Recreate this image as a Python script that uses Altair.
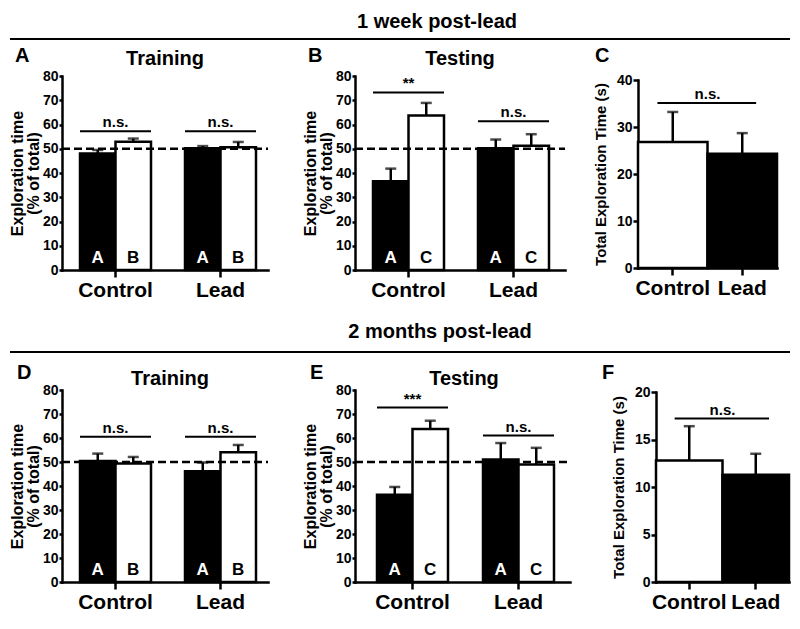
import altair as alt
import pandas as pd

FONT = "Liberation Sans"
O = 8            # page margin: chart coordinate = page coordinate - O
W, H = 784, 606  # whole drawing area

# ---------------- data ----------------
pair_groups = ["Control", "Control", "Lead", "Lead"]
total_groups = ["Control", "Lead"]
chance_level = [50]

# A: 1 week post-lead, training (objects A / B)
train1_objects = ["A", "B", "A", "B"]
train1_mean = [48.0, 52.9, 50.2, 50.6]
train1_sem = [1.5, 1.3, 0.9, 2.2]
train1_sig_y = [57.2, 57.2]
train1_sig_label = ["n.s.", "n.s."]

# B: 1 week post-lead, testing (objects A / C)
test1_objects = ["A", "C", "A", "C"]
test1_mean = [36.6, 63.7, 50.2, 51.2]
test1_sem = [5.2, 5.2, 3.6, 4.8]
test1_sig_y = [73.2, 61.3]
test1_sig_label = ["**", "n.s."]

# C: 1 week post-lead, total exploration time (s)
total1_mean = [26.8, 24.3]
total1_sem = [6.4, 4.4]
total1_sig_y = [35.1]
total1_sig_label = ["n.s."]

# D: 2 months post-lead, training
train2_objects = ["A", "B", "A", "B"]
train2_mean = [50.4, 49.4, 46.1, 54.1]
train2_sem = [3.1, 2.7, 3.7, 3.0]
train2_sig_y = [60.5, 60.5]
train2_sig_label = ["n.s.", "n.s."]

# E: 2 months post-lead, testing
test2_objects = ["A", "C", "A", "C"]
test2_mean = [36.4, 63.8, 51.0, 49.0]
test2_sem = [3.2, 3.4, 6.9, 6.9]
test2_sig_y = [72.7, 61.0]
test2_sig_label = ["***", "n.s."]

# F: 2 months post-lead, total exploration time (s)
total2_mean = [12.8, 11.3]
total2_sem = [3.6, 2.2]
total2_sig_y = [17.2]
total2_sig_label = ["n.s."]

pct_ticks = [0, 10, 20, 30, 40, 50, 60, 70, 80]
total1_ticks = [0, 10, 20, 30, 40]
total2_ticks = [0, 5, 10, 15, 20]
pct_title = ["Exploration time", "(% of total)"]
total_title = "Total Exploration Time (s)"

# ---------------- layout (page pixels) ----------------
LAY = {
    "A": dict(L=62, R=268, top=76, bottom=270, s1=80, bw=71, step=105),
    "B": dict(L=355, R=565, top=76, bottom=270, s1=373, bw=71, step=105),
    "C": dict(L=638, R=777, top=80, bottom=268),
    "D": dict(L=62, R=268, top=390, bottom=582, s1=80, bw=71, step=105),
    "E": dict(L=355, R=570, top=390, bottom=582, s1=377, bw=71, step=106),
    "F": dict(L=656, R=789, top=392, bottom=582),
}


def band_params(lay):
    w = lay["R"] - lay["L"]
    p_i = 1 - lay["bw"] / lay["step"]
    p_o = (w / lay["step"] - 2 + p_i) / 2
    align = (lay["s1"] - lay["L"]) / (w - lay["step"] - lay["bw"])
    return dict(paddingInner=p_i, paddingOuter=p_o, align=align)


def label_layer(text, x, y, size, align="center"):
    return alt.Chart(pd.DataFrame({"t": [text]})).mark_text(
        font=FONT, fontWeight="bold", fontSize=size, align=align,
        baseline="alphabetic", color="black"
    ).encode(x=alt.value(x - O), y=alt.value(y - O), text="t:N")


def header(text, cx, baseline, line_y):
    rule = alt.Chart(pd.DataFrame({"t": [text]})).mark_rule(
        color="black", strokeWidth=2
    ).encode(x=alt.value(10 - O), x2=alt.value(790 - O), y=alt.value(line_y - O))
    return alt.layer(rule, label_layer(text, cx, baseline, 20))


def x_axis(lay):
    return alt.Axis(title=None, orient="bottom", labelAngle=0,
                    offset=-(H - (lay["bottom"] - O)))


def pair_panel(objects, means, sems, sig_y, sig_labels, lay, letter, lpos, title, tpos):
    bars_df = pd.DataFrame({
        "group": pair_groups, "object": objects, "mean": means,
        "top": [m + s for m, s in zip(means, sems)],
    })
    sig_df = pd.DataFrame({"group": ["Control", "Lead"], "y": sig_y, "label": sig_labels})
    chance_df = pd.DataFrame({"chance": chance_level})

    xscale = alt.Scale(range=[lay["L"] - O, lay["R"] - O], **band_params(lay))
    xaxis = x_axis(lay)
    yscale = alt.Scale(domain=[0, 80], range=[lay["bottom"] - O, lay["top"] - O], nice=False)
    yaxis = alt.Axis(title=pct_title, orient="left", offset=-(lay["L"] - O), values=pct_ticks)

    X = alt.X("group:N", scale=xscale, axis=xaxis)
    XO = alt.XOffset("object:N", scale=alt.Scale(paddingInner=0, paddingOuter=0))

    def Y(f):
        return alt.Y(f, type="quantitative", scale=yscale, axis=yaxis, stack=None)

    base = alt.Chart(bars_df)
    bars = base.mark_bar(stroke="black", strokeWidth=2.5).encode(
        x=X, xOffset=XO, y=Y("mean"),
        fill=alt.condition(alt.datum.object == "A", alt.value("black"), alt.value("white")),
    )
    err = base.mark_rule(color="black", strokeWidth=2.5).encode(
        x=X, xOffset=XO, y=Y("mean"), y2=alt.Y2("top"))
    cap = base.mark_tick(color="black", thickness=2.5, size=11, orient="horizontal").encode(
        x=X, xOffset=XO, y=Y("top"))
    chance = alt.Chart(chance_df).mark_rule(color="black", strokeWidth=2.5, strokeDash=[8, 4]).encode(
        x=alt.value(lay["L"] - O), x2=alt.value(lay["R"] - O), y=Y("chance"))
    sig_rule = alt.Chart(sig_df).mark_rule(color="black", strokeWidth=2).encode(
        x=alt.X("group:N", bandPosition=0, scale=xscale, axis=xaxis),
        x2=alt.X2("group", bandPosition=1),
        y=Y("y"))
    sig_text = alt.Chart(sig_df).mark_text(
        font=FONT, fontWeight="bold", fontSize=15, baseline="alphabetic", dy=-4, color="black"
    ).encode(x=X, y=Y("y"), text="label:N")
    obj_text = base.mark_text(
        font=FONT, fontWeight="bold", fontSize=17, baseline="alphabetic", dy=-7
    ).encode(
        x=X, xOffset=XO, y=alt.value(lay["bottom"] - O), text="object:N",
        color=alt.condition(alt.datum.object == "A", alt.value("white"), alt.value("black")),
    )
    return alt.layer(
        bars, chance, err, cap, sig_rule, sig_text, obj_text,
        label_layer(letter, lpos[0], lpos[1], 20, align="left"),
        label_layer(title, tpos[0], tpos[1], 20),
    )


def total_panel(means, sems, sig_y, sig_label, ticks, ymax, lay, letter, lpos):
    bars_df = pd.DataFrame({
        "group": total_groups, "mean": means,
        "top": [m + s for m, s in zip(means, sems)],
    })
    sig_df = pd.DataFrame({"start": ["Control"], "end": ["Lead"], "y": sig_y, "label": sig_label})

    xscale = alt.Scale(range=[lay["L"] - O, lay["R"] - O], paddingInner=0, paddingOuter=0)
    xaxis = x_axis(lay)
    yscale = alt.Scale(domain=[0, ymax], range=[lay["bottom"] - O, lay["top"] - O], nice=False)
    yaxis = alt.Axis(title=total_title, orient="left", offset=-(lay["L"] - O), values=ticks,
                     titleFontSize=15, titlePadding=8, tickSize=5)
    X = alt.X("group:N", scale=xscale, axis=xaxis)

    def Y(f):
        return alt.Y(f, type="quantitative", scale=yscale, axis=yaxis, stack=None)

    base = alt.Chart(bars_df)
    bars = base.mark_bar(stroke="black", strokeWidth=2.5).encode(
        x=X, y=Y("mean"),
        fill=alt.condition(alt.datum.group == "Lead", alt.value("black"), alt.value("white")),
    )
    err = base.mark_rule(color="black", strokeWidth=2.5).encode(x=X, y=Y("mean"), y2=alt.Y2("top"))
    cap = base.mark_tick(color="black", thickness=2.5, size=11, orient="horizontal").encode(
        x=X, y=Y("top"))
    sig_rule = alt.Chart(sig_df).mark_rule(color="black", strokeWidth=2).encode(
        x=alt.X("start:N", bandPosition=0.28, scale=xscale, axis=xaxis),
        x2=alt.X2("end", bandPosition=0.7),
        y=Y("y"))
    sig_text = alt.Chart(sig_df).mark_text(
        font=FONT, fontWeight="bold", fontSize=15, baseline="alphabetic", dy=-4, color="black"
    ).encode(x=alt.X("start:N", bandPosition=1, scale=xscale, axis=xaxis), y=Y("y"), text="label:N")
    return alt.layer(
        bars, err, cap, sig_rule, sig_text,
        label_layer(letter, lpos[0], lpos[1], 20, align="left"),
    )


pA = pair_panel(train1_objects, train1_mean, train1_sem, train1_sig_y, train1_sig_label,
                LAY["A"], "A", (15, 62), "Training", (165, 65))
pB = pair_panel(test1_objects, test1_mean, test1_sem, test1_sig_y, test1_sig_label,
                LAY["B"], "B", (308, 62), "Testing", (460, 65))
pC = total_panel(total1_mean, total1_sem, total1_sig_y, total1_sig_label, total1_ticks, 40,
                 LAY["C"], "C", (595, 62))
pD = pair_panel(train2_objects, train2_mean, train2_sem, train2_sig_y, train2_sig_label,
                LAY["D"], "D", (17, 379), "Training", (170, 385))
pE = pair_panel(test2_objects, test2_mean, test2_sem, test2_sig_y, test2_sig_label,
                LAY["E"], "E", (310, 379), "Testing", (464, 385))
pF = total_panel(total2_mean, total2_sem, total2_sig_y, total2_sig_label, total2_ticks, 20,
                 LAY["F"], "F", (602, 379))

h1 = header("1 week post-lead", 437, 28, 39)
h2 = header("2 months post-lead", 440, 338, 352)

chart = alt.layer(h1, h2, pA, pB, pC, pD, pE, pF).resolve_scale(
    x="independent", y="independent", xOffset="independent"
).resolve_axis(
    x="independent", y="independent"
).properties(
    width=W, height=H, padding=0, background="white"
).configure_view(
    stroke=None
).configure_axis(
    domainColor="black", domainWidth=2.5, domainCap="square",
    tickColor="black", tickWidth=2.5,
    labelColor="black", titleColor="black",
    labelFont=FONT, titleFont=FONT,
    labelFontWeight="bold", titleFontWeight="bold",
    grid=False, labelOverlap=False,
).configure_axisX(
    labelFontSize=21, tickSize=7, labelPadding=2,
).configure_axisY(
    labelFontSize=14, tickSize=3, labelPadding=1,
    titleFontSize=16, titleLineHeight=16, titlePadding=1, minExtent=0,
)

chart.save("out.html", embed_options={"renderer": "svg", "actions": False})
